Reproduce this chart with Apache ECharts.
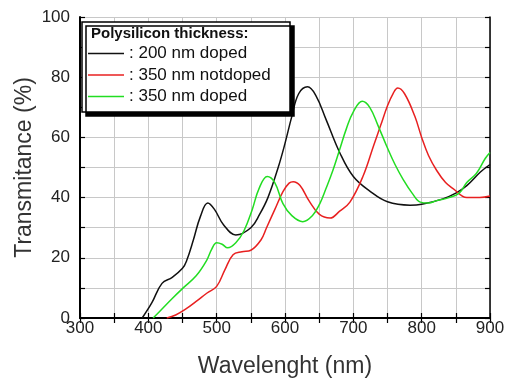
<!DOCTYPE html>
<html>
<head>
<meta charset="utf-8">
<script src="https://cdn.jsdelivr.net/npm/echarts@6/dist/echarts.min.js"></script>
<style>
  html, body { margin: 0; padding: 0; background: #fff; }
  #chart { width: 505px; height: 378px; }
</style>
</head>
<body>
<div id="chart"></div>
<script>
// values
const xTicks = [300, 400, 500, 600, 700, 800, 900]
const yTicks = [0, 20, 40, 60, 80, 100]

const names = [': 200 nm doped', ': 350 nm notdoped', ': 350 nm doped']

const wlBlack = [391, 405, 420, 435, 450, 456, 466, 476, 487, 497, 510, 528, 550, 563, 575, 590, 600, 610, 620, 633, 645, 660, 680, 700, 725, 750, 783, 800, 830, 850, 866, 886, 900]
const tBlack = [0, 5, 11.5, 13.5, 16.5, 19, 26, 33.6, 38.2, 36, 31, 27.6, 30, 34.5, 40, 50, 58, 67, 74.5, 76.8, 74, 66, 55, 47, 42, 38.6, 37.5, 37.8, 39.5, 41.5, 44, 48.5, 51]

const wlRed = [427, 440, 455, 470, 486, 500, 512, 524, 537, 550, 565, 573, 585, 597, 606, 612, 622, 635, 650, 666, 680, 695, 714, 730, 740, 750, 758, 765, 775, 790, 800, 810, 822, 835, 846, 866, 885, 900]
const tRed = [0, 1, 3, 5.5, 8.3, 10.5, 16, 21, 22, 22.5, 26, 30, 36, 42, 44.8, 45.3, 44, 39, 34.5, 33.2, 35.5, 38.5, 47, 57.5, 64, 70.5, 74.5, 76.4, 74.5, 67, 60, 54, 49, 45, 43, 40, 40, 40.5]

const wlGreen = [407, 420, 435, 451, 470, 485, 493, 500, 508, 516, 528, 540, 552, 562, 574, 585, 597, 610, 626, 640, 651, 660, 670, 680, 690, 700, 713, 724, 736, 749, 761, 773, 786, 798, 810, 822, 840, 855, 866, 880, 893, 900]
const tGreen = [0, 3, 6.5, 10, 14, 19, 23, 25, 24.5, 23.3, 25, 29, 36, 43, 47, 45, 38, 34, 32, 34, 38, 43, 49, 56, 63, 68.5, 72, 70, 64, 57, 51, 46, 41.5, 38.5, 38.2, 39, 40, 41.5, 45, 48, 53, 55]

function pairs(xs, ys) {
  return xs.map((x, i) => [x, ys[i]])
}

const chart = echarts.init(document.getElementById('chart'))

const font = '"Liberation Sans", Arial, sans-serif'
const tickStyle = { inside: true, length: 5, lineStyle: { color: '#000', width: 1.2 } }
const gridStyle = { show: true, lineStyle: { color: '#c8c8c8', width: 1 } }

chart.setOption({
  animation: false,
  backgroundColor: '#fff',
  grid: { left: 80, right: 15, top: 17, bottom: 60, outerBoundsMode: 'none', containLabel: false },
  graphic: [
    {
      type: 'rect',
      z: 10,
      shape: { x: 82, y: 22, width: 208, height: 90 },
      style: {
        fill: '#fff', stroke: '#000', lineWidth: 1.5,
        shadowColor: '#000', shadowOffsetX: 4, shadowOffsetY: 4, shadowBlur: 0
      }
    },
    {
      type: 'text',
      z: 11,
      left: 91,
      top: 26,
      style: {
        text: 'Polysilicon thickness:',
        font: 'bold 15px ' + font,
        fill: '#111'
      }
    }
  ],
  legend: {
    z: 20,
    orient: 'vertical',
    left: 88,
    top: 45,
    icon: 'rect',
    itemWidth: 36,
    itemHeight: 1.5,
    itemGap: 4.5,
    padding: 0,
    textStyle: { fontSize: 17, color: '#111', fontFamily: font },
    data: names
  },
  xAxis: [
    {
      type: 'value',
      min: 300, max: 900, interval: 50,
      name: 'Wavelenght (nm)',
      nameLocation: 'middle',
      nameGap: 37,
      nameTextStyle: { fontSize: 23, color: '#333', fontFamily: font },
      axisLine: { lineStyle: { color: '#000', width: 2 } },
      axisTick: tickStyle,
      splitLine: gridStyle,
      axisLabel: {
        margin: 2,
        fontSize: 17,
        color: '#222',
        fontFamily: font,
        formatter: v => (xTicks.includes(v) ? String(v) : '')
      }
    },
    {
      type: 'value',
      position: 'top',
      min: 300, max: 900, interval: 50,
      axisLine: { lineStyle: { color: '#000', width: 1.5 } },
      axisTick: tickStyle,
      axisLabel: { show: false },
      splitLine: { show: false }
    }
  ],
  yAxis: [
    {
      type: 'value',
      min: 0, max: 100, interval: 10,
      name: 'Transmitance (%)',
      nameLocation: 'middle',
      nameGap: 44,
      nameMoveOverlap: false,
      nameTextStyle: { fontSize: 23, color: '#333', fontFamily: font },
      axisLine: { show: true, lineStyle: { color: '#000', width: 2 } },
      axisTick: tickStyle,
      splitLine: gridStyle,
      axisLabel: {
        margin: 10,
        fontSize: 17,
        color: '#222',
        fontFamily: font,
        formatter: v => (yTicks.includes(v) ? String(v) : '')
      }
    },
    {
      type: 'value',
      position: 'right',
      min: 0, max: 100, interval: 10,
      axisLine: { show: true, lineStyle: { color: '#000', width: 1.5 } },
      axisTick: tickStyle,
      axisLabel: { show: false },
      splitLine: { show: false }
    }
  ],
  series: [
    {
      name: names[0], type: 'line', symbol: 'none', smooth: 0.4,
      color: '#111', lineStyle: { width: 1.5 },
      data: pairs(wlBlack, tBlack)
    },
    {
      name: names[1], type: 'line', symbol: 'none', smooth: 0.4,
      color: '#e82020', lineStyle: { width: 1.5 },
      data: pairs(wlRed, tRed)
    },
    {
      name: names[2], type: 'line', symbol: 'none', smooth: 0.4,
      color: '#22dd22', lineStyle: { width: 1.5 },
      data: pairs(wlGreen, tGreen)
    }
  ]
})
</script>
</body>
</html>
